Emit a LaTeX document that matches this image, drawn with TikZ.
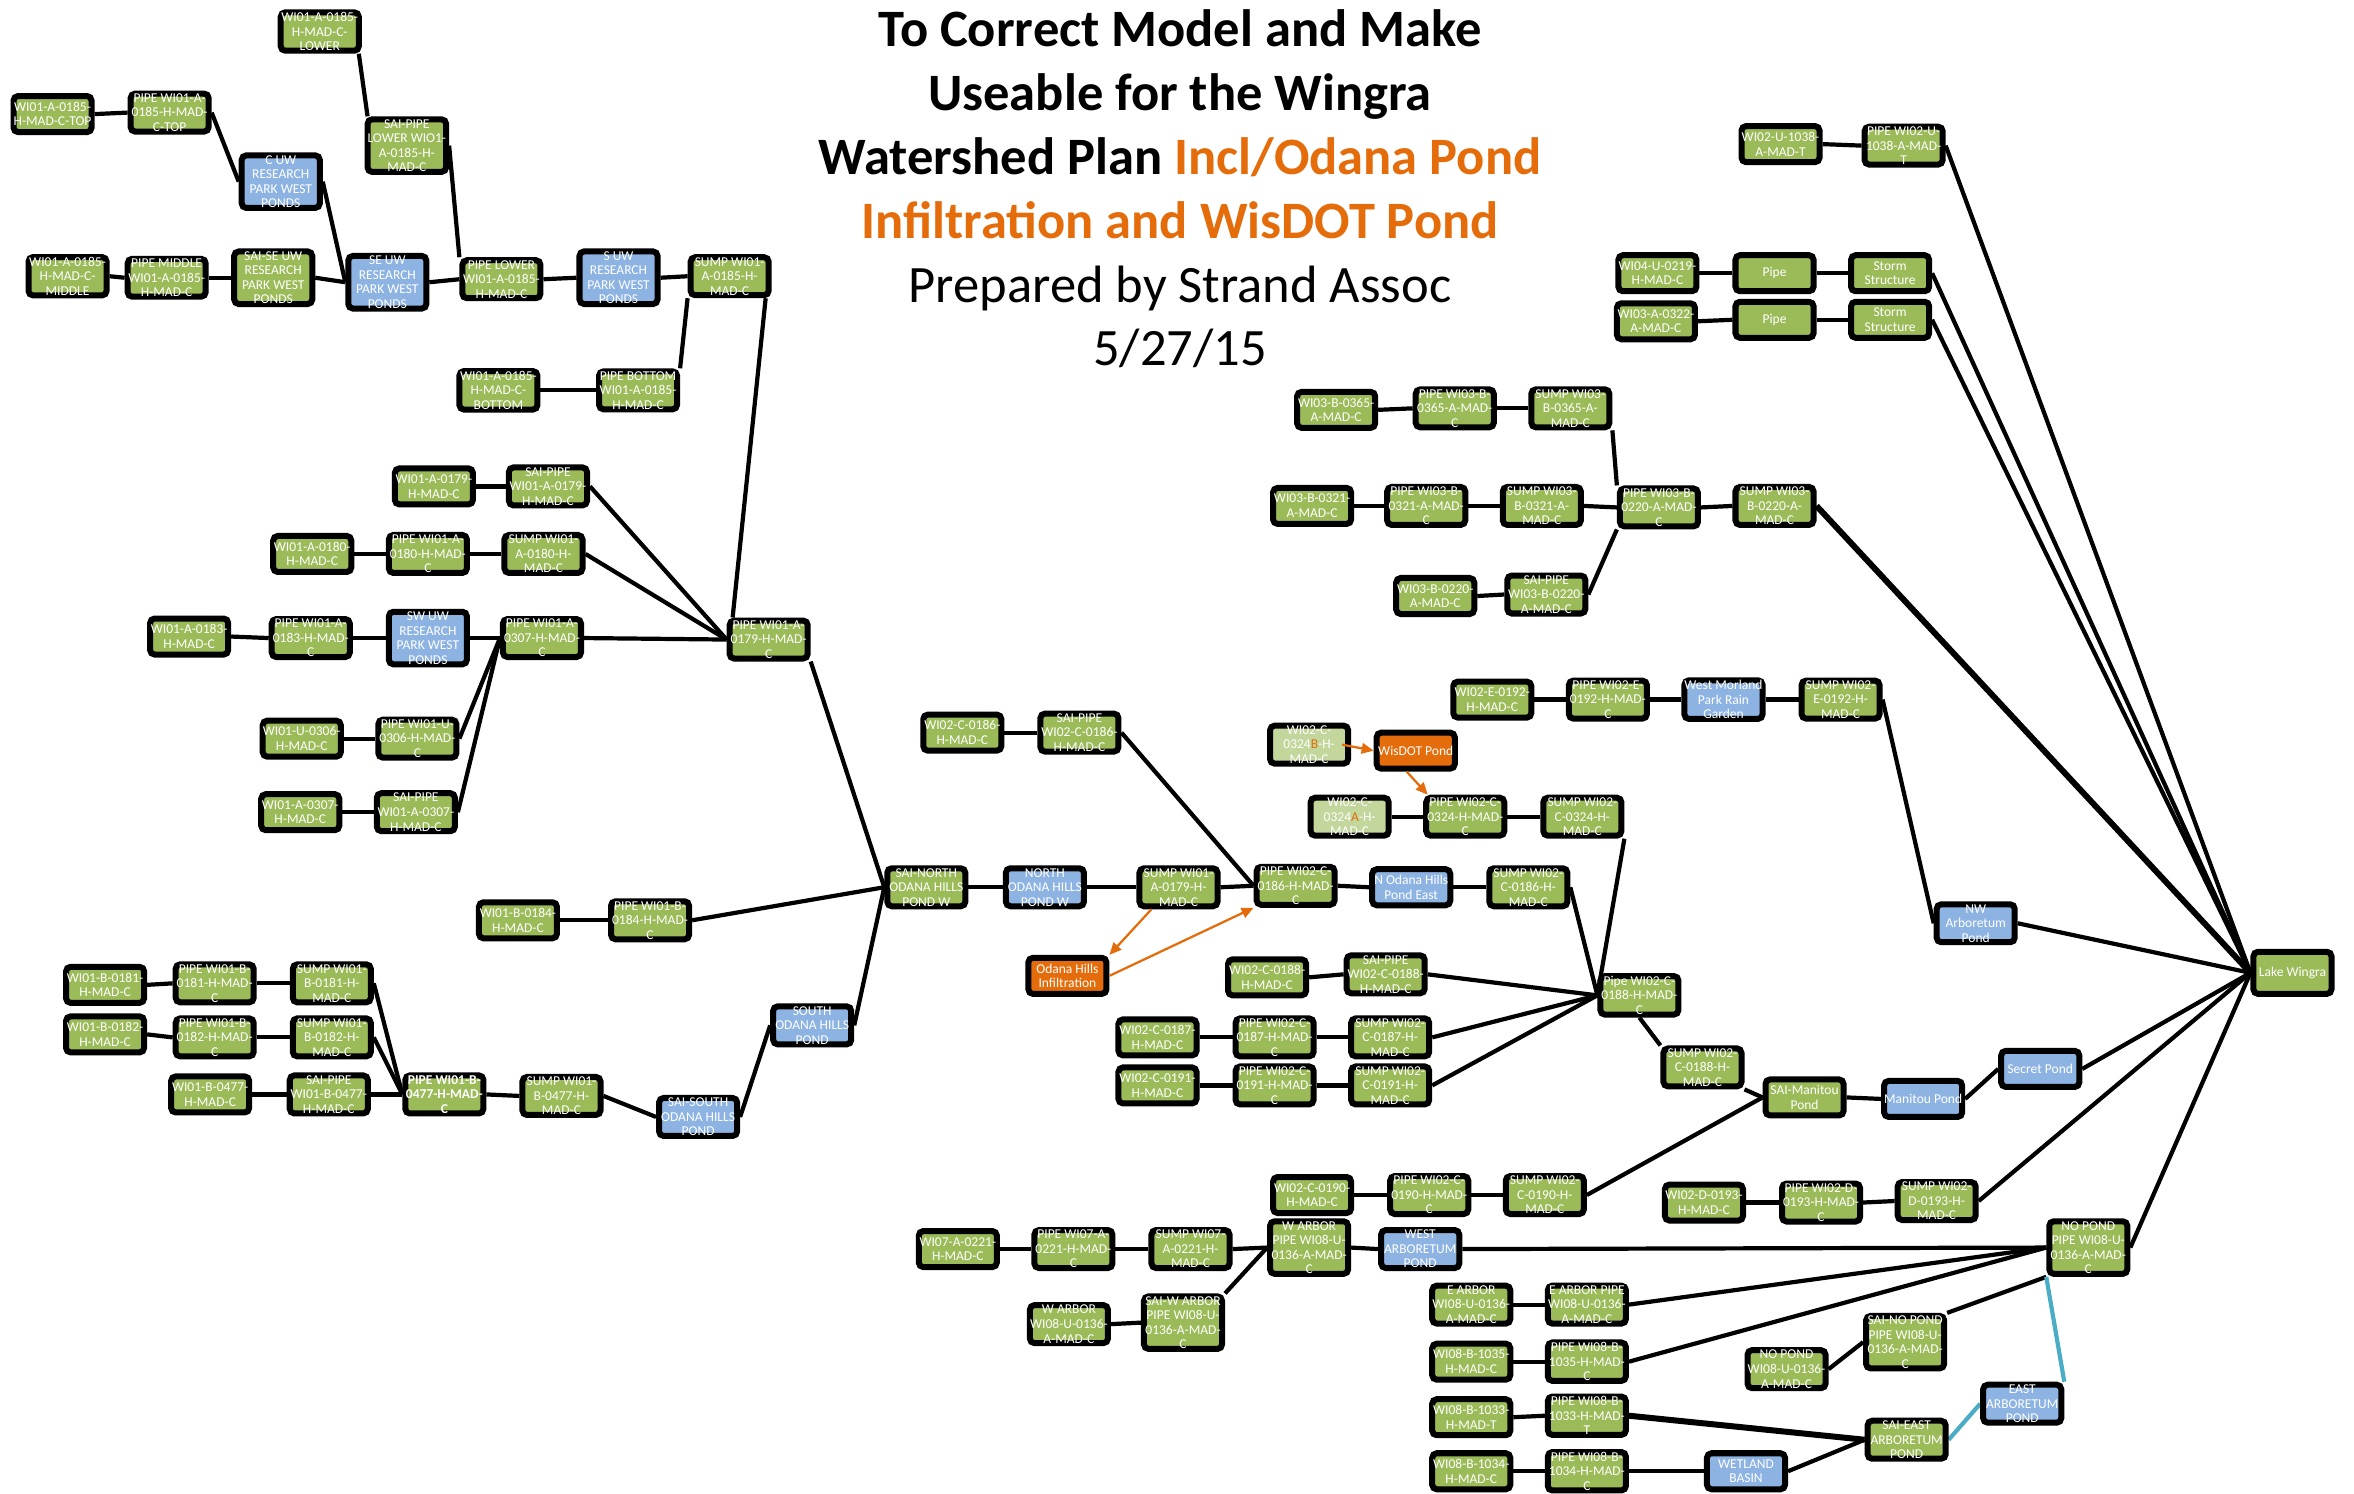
\documentclass[tikz,border=0pt]{standalone}
\usepackage{fontspec}
\setmainfont{Carlito}
\usetikzlibrary{arrows.meta,backgrounds}
\definecolor{gr}{HTML}{9BBB59}
\definecolor{bl}{HTML}{8DB3E2}
\definecolor{orC}{HTML}{E46C0A}
\definecolor{lg}{HTML}{C3D69B}
\definecolor{cy}{HTML}{4BACC6}
\begin{document}
\begin{tikzpicture}[x=1pt,y=-1pt,
 box/.style={draw=black,line width=4pt,rounded corners=3pt,minimum width=52pt,minimum height=24pt,inner sep=0pt,align=center,text=white,font=\fontsize{9}{9.7}\selectfont},
 gbox/.style={box,fill=gr},
 bbox/.style={box,fill=bl},
 obox/.style={box,fill=orC},
 lbox/.style={box,fill=lg},
 conn/.style={draw=black,line width=2.8pt},
 oarr/.style={draw=orC,line width=1.5pt,-{Triangle[length=8pt,width=7pt]}},
 cline/.style={draw=cy,line width=2.8pt}]
\useasboundingbox (0,0) rectangle (1568,995);

% title
\node[align=center,font=\fontsize{35}{42.5}\selectfont] (title) at (786,126)
 {\textbf{To Correct Model and Make}\\\textbf{Useable for the Wingra}\\\textbf{Watershed Plan \textcolor{orC}{Incl/Odana Pond}}\\\textbf{\textcolor{orC}{Infiltration and WisDOT Pond}}\\Prepared by Strand Assoc\\5/27/15};

% top-left cluster
\node[gbox] (a1) at (213,21) {WI01-A-0185-\\H-MAD-C-\\LOWER};
\node[gbox] (a2) at (35,76) {WI01-A-0185-\\H-MAD-C-TOP};
\node[gbox] (a3) at (113,75) {PIPE WI01-A-\\0185-H-MAD-\\C-TOP};
\node[bbox] (a4) at (187,121) {C UW\\RESEARCH\\PARK WEST\\PONDS};
\node[gbox] (a5) at (271,97) {SAI-PIPE\\LOWER WIO1-\\A-0185-H-\\MAD-C};
\node[gbox] (a6) at (45,184) {WI01-A-0185-\\H-MAD-C-\\MIDDLE};
\node[gbox] (a7) at (111,185) {PIPE MIDDLE\\WI01-A-0185-\\H-MAD-C};
\node[gbox] (a8) at (182,185) {SAI-SE UW\\RESEARCH\\PARK WEST\\PONDS};
\node[bbox] (a9) at (258,188) {SE UW\\RESEARCH\\PARK WEST\\PONDS};
\node[gbox] (a10) at (334,186) {PIPE LOWER\\WI01-A-0185-\\H-MAD-C};
\node[bbox] (a11) at (412,185) {S UW\\RESEARCH\\PARK WEST\\PONDS};
\node[gbox] (a12) at (486,184) {SUMP WI01-\\A-0185-H-\\MAD-C};
\node[gbox] (a13) at (332,260) {WI01-A-0185-\\H-MAD-C-\\BOTTOM};
\node[gbox] (a14) at (425,260) {PIPE BOTTOM\\WI01-A-0185-\\H-MAD-C};

% middle-left cluster
\node[gbox] (b1) at (289,324) {WI01-A-0179-\\H-MAD-C};
\node[gbox] (b2) at (365,324) {SAI-PIPE\\WI01-A-0179-\\H-MAD-C};
\node[gbox] (b3) at (208,369) {WI01-A-0180-\\H-MAD-C};
\node[gbox] (b4) at (285,369) {PIPE WI01-A-\\0180-H-MAD-\\C};
\node[gbox] (b5) at (362,369) {SUMP WI01-\\A-0180-H-\\MAD-C};
\node[gbox] (b6) at (126,424) {WI01-A-0183-\\H-MAD-C};
\node[gbox] (b7) at (207,425) {PIPE WI01-A-\\0183-H-MAD-\\C};
\node[bbox] (b8) at (285,425) {SW UW\\RESEARCH\\PARK WEST\\PONDS};
\node[gbox] (b9) at (361,425) {PIPE WI01-A-\\0307-H-MAD-\\C};
\node[gbox] (b10) at (512,426) {PIPE WI01-A-\\0179-H-MAD-\\C};
\node[gbox] (b11) at (201,492) {WI01-U-0306-\\H-MAD-C};
\node[gbox] (b12) at (278,492) {PIPE WI01-U-\\0306-H-MAD-\\C};
\node[gbox] (b13) at (200,541) {WI01-A-0307-\\H-MAD-C};
\node[gbox] (b14) at (277,541) {SAI-PIPE\\WI01-A-0307-\\H-MAD-C};

% odana cluster
\node[gbox] (c1) at (617,591) {SAI-NORTH\\ODANA HILLS\\POND W};
\node[gbox] (c2) at (345,613) {WI01-B-0184-\\H-MAD-C};
\node[gbox] (c3) at (433,613) {PIPE WI01-B-\\0184-H-MAD-\\C};
\node[bbox] (c4) at (696,591) {NORTH\\ODANA HILLS\\POND W};
\node[bbox] (c5) at (541,683) {SOUTH\\ODANA HILLS\\POND};
\node[bbox] (c6) at (465,744) {SAI-SOUTH\\ODANA HILLS\\POND};

% bottom-left cluster
\node[gbox] (d1) at (70,656) {WI01-B-0181-\\H-MAD-C};
\node[gbox] (d2) at (143,655) {PIPE WI01-B-\\0181-H-MAD-\\C};
\node[gbox] (d3) at (221,655) {SUMP WI01-\\B-0181-H-\\MAD-C};
\node[gbox] (d4) at (70,689) {WI01-B-0182-\\H-MAD-C};
\node[gbox] (d5) at (143,691) {PIPE WI01-B-\\0182-H-MAD-\\C};
\node[gbox] (d6) at (221,691) {SUMP WI01-\\B-0182-H-\\MAD-C};
\node[gbox] (d7) at (140,729) {WI01-B-0477-\\H-MAD-C};
\node[gbox] (d8) at (219,729) {SAI-PIPE\\WI01-B-0477-\\H-MAD-C};
\node[gbox,font=\fontsize{9}{9.7}\selectfont\bfseries] (d9) at (296,729) {PIPE WI01-B-\\0477-H-MAD-\\C};
\node[gbox] (d10) at (374,730) {SUMP WI01-\\B-0477-H-\\MAD-C};

% center cluster
\node[gbox] (e1) at (641,488) {WI02-C-0186-\\H-MAD-C};
\node[gbox] (e2) at (719,488) {SAI-PIPE\\WI02-C-0186-\\H-MAD-C};
\node[gbox] (e3) at (785,591) {SUMP WI01-\\A-0179-H-\\MAD-C};
\node[gbox] (e4) at (863,590) {PIPE WI02-C-\\0186-H-MAD-\\C};
\node[bbox] (e5) at (940,591) {N Odana Hills\\Pond East};
\node[gbox] (e6) at (1018,591) {SUMP WI02-\\C-0186-H-\\MAD-C};
\node[obox] (e7) at (711,650) {Odana Hills\\Infiltration};
\node[lbox] (e8) at (872,496) {WI02-C-\\0324\textcolor{orC}{B}-H-\\MAD-C};
\node[obox] (e9) at (943,500) {WisDOT Pond};
\node[lbox] (e10) at (899,544) {WI02-C-\\0324\textcolor{orC}{A}-H-\\MAD-C};
\node[gbox] (e11) at (976,544) {PIPE WI02-C-\\0324-H-MAD-\\C};
\node[gbox] (e12) at (1054,544) {SUMP WI02-\\C-0324-H-\\MAD-C};
\node[gbox] (e13) at (844,651) {WI02-C-0188-\\H-MAD-C};
\node[gbox] (e14) at (923,649) {SAI-PIPE\\WI02-C-0188-\\H-MAD-C};
\node[gbox] (e15) at (1092,663) {Pipe WI02-C-\\0188-H-MAD-\\C};
\node[gbox] (e16) at (771,691) {WI02-C-0187-\\H-MAD-C};
\node[gbox] (e17) at (849,691) {PIPE WI02-C-\\0187-H-MAD-\\C};
\node[gbox] (e18) at (926,691) {SUMP WI02-\\C-0187-H-\\MAD-C};
\node[gbox] (e19) at (771,723) {WI02-C-0191-\\H-MAD-C};
\node[gbox] (e20) at (849,723) {PIPE WI02-C-\\0191-H-MAD-\\C};
\node[gbox] (e21) at (926,723) {SUMP WI02-\\C-0191-H-\\MAD-C};
\node[gbox] (e22) at (1134,711) {SUMP WI02-\\C-0188-H-\\MAD-C};
\node[gbox] (e23) at (1202,731) {SAI-Manitou\\Pond};
\node[bbox] (e24) at (1281,732) {Manitou Pond};
\node[bbox] (e25) at (1359,712) {Secret Pond};
\node[bbox] (e26) at (1316,615) {NW\\Arboretum\\Pond};
\node[gbox,minimum height=28pt] (e27) at (1527,648) {Lake Wingra};

% WI02-E row
\node[gbox] (f1) at (994,466) {WI02-E-0192-\\H-MAD-C};
\node[gbox] (f2) at (1071,466) {PIPE WI02-E-\\0192-H-MAD-\\C};
\node[bbox] (f3) at (1148,466) {West Morland\\Park Rain\\Garden};
\node[gbox] (f4) at (1226,466) {SUMP WI02-\\E-0192-H-\\MAD-C};

% WI03 cluster
\node[gbox] (g1) at (890,273) {WI03-B-0365-\\A-MAD-C};
\node[gbox] (g2) at (969,272) {PIPE WI03-B-\\0365-A-MAD-\\C};
\node[gbox] (g3) at (1046,272) {SUMP WI03-\\B-0365-A-\\MAD-C};
\node[gbox] (g4) at (874,337) {WI03-B-0321-\\A-MAD-C};
\node[gbox] (g5) at (950,337) {PIPE WI03-B-\\0321-A-MAD-\\C};
\node[gbox] (g6) at (1027,337) {SUMP WI03-\\B-0321-A-\\MAD-C};
\node[gbox] (g7) at (1105,338) {PIPE WI03-B-\\0220-A-MAD-\\C};
\node[gbox] (g8) at (1182,337) {SUMP WI03-\\B-0220-A-\\MAD-C};
\node[gbox] (g9) at (956,397) {WI03-B-0220-\\A-MAD-C};
\node[gbox] (g10) at (1030,396) {SAI-PIPE\\WI03-B-0220-\\A-MAD-C};

% top right
\node[gbox] (h1) at (1186,96) {WI02-U-1038-\\A-MAD-T};
\node[gbox] (h2) at (1268,97) {PIPE WI02-U-\\1038-A-MAD-\\T};
\node[gbox] (h3) at (1104,182) {WI04-U-0219-\\H-MAD-C};
\node[gbox] (h4) at (1182,182) {Pipe};
\node[gbox] (h5) at (1259,182) {Storm\\Structure};
\node[gbox] (h6) at (1103,214) {WI03-A-0322-\\A-MAD-C};
\node[gbox] (h7) at (1182,213) {Pipe};
\node[gbox] (h8) at (1259,213) {Storm\\Structure};

% bottom rows
\node[gbox] (i1) at (874,796) {WI02-C-0190-\\H-MAD-C};
\node[gbox] (i2) at (952,796) {PIPE WI02-C-\\0190-H-MAD-\\C};
\node[gbox] (i3) at (1029,796) {SUMP WI02-\\C-0190-H-\\MAD-C};
\node[gbox] (i4) at (1135,801) {WI02-D-0193-\\H-MAD-C};
\node[gbox] (i5) at (1213,801) {PIPE WI02-D-\\0193-H-MAD-\\C};
\node[gbox] (i6) at (1290,800) {SUMP WI02-\\D-0193-H-\\MAD-C};
\node[gbox] (j1) at (638,832) {WI07-A-0221-\\H-MAD-C};
\node[gbox] (j2) at (715,832) {PIPE WI07-A-\\0221-H-MAD-\\C};
\node[gbox] (j3) at (793,832) {SUMP WI07-\\A-0221-H-\\MAD-C};
\node[gbox] (j4) at (872,831) {W ARBOR\\PIPE WI08-U-\\0136-A-MAD-\\C};
\node[bbox] (j5) at (946,832) {WEST\\ARBORETUM\\POND};
\node[gbox] (j6) at (712,882) {W ARBOR\\WI08-U-0136-\\A-MAD-C};
\node[gbox] (j7) at (788,881) {SAI-W ARBOR\\PIPE WI08-U-\\0136-A-MAD-\\C};
\node[gbox] (k1) at (1391,831) {NO POND\\PIPE WI08-U-\\0136-A-MAD-\\C};
\node[gbox] (k2) at (980,869) {E ARBOR\\WI08-U-0136-\\A-MAD-C};
\node[gbox] (k3) at (1057,869) {E ARBOR PIPE\\WI08-U-0136-\\A-MAD-C};
\node[gbox] (k4) at (980,907) {WI08-B-1035-\\H-MAD-C};
\node[gbox] (k5) at (1057,907) {PIPE WI08-B-\\1035-H-MAD-\\C};
\node[gbox] (k6) at (980,944) {WI08-B-1033-\\H-MAD-T};
\node[gbox] (k7) at (1057,943) {PIPE WI08-B-\\1033-H-MAD-\\T};
\node[gbox] (k8) at (980,980) {WI08-B-1034-\\H-MAD-C};
\node[gbox] (k9) at (1057,980) {PIPE WI08-B-\\1034-H-MAD-\\C};
\node[bbox] (k10) at (1163,980) {WETLAND\\BASIN};
\node[gbox] (k11) at (1190,912) {NO POND\\WI08-U-0136-\\A-MAD-C};
\node[gbox] (k12) at (1269,894) {SAI-NO POND\\PIPE WI08-U-\\0136-A-MAD-\\C};
\node[bbox] (k13) at (1347,935) {EAST\\ARBORETUM\\POND};
\node[gbox] (k14) at (1270,959) {SAI-EAST\\ARBORETUM\\POND};

\begin{pgfonlayer}{background}
% top-left
\draw[conn] (a2.east) -- (a3.west);
\draw[conn] (a3.east) -- (a4.west);
\draw[conn] (a4.east) -- (a9.west);
\draw[conn] ([xshift=-2pt]a1.south east) -- ([xshift=2pt]a5.north west);
\draw[conn] (a5.east) -- (a10.north west);
\draw[conn] (a6.east) -- (a7.west);
\draw[conn] (a7.east) -- (a8.west);
\draw[conn] (a8.east) -- (a9.west);
\draw[conn] (a9.east) -- (a10.west);
\draw[conn] (a10.east) -- (a11.west);
\draw[conn] (a11.east) -- (a12.west);
\draw[conn] (a13.east) -- (a14.west);
\draw[conn] (a14.north east) -- (a12.south west);
\draw[conn] ([xshift=-4pt]a12.south east) -- ([xshift=4pt]b10.north west);
% middle-left
\draw[conn] (b1.east) -- (b2.west);
\draw[conn] (b2.east) -- (b10.west);
\draw[conn] (b3.east) -- (b4.west);
\draw[conn] (b4.east) -- (b5.west);
\draw[conn] (b5.east) -- (b10.west);
\draw[conn] (b6.east) -- (b7.west);
\draw[conn] (b7.east) -- (b8.west);
\draw[conn] (b8.east) -- (b9.west);
\draw[conn] (b9.east) -- (b10.west);
\draw[conn] (b11.east) -- (b12.west);
\draw[conn] (b12.east) -- (b9.west);
\draw[conn] (b13.east) -- (b14.west);
\draw[conn] (b14.east) -- (b9.west);
\draw[conn] (b10.south east) -- (c1.west);
% odana
\draw[conn] (c2.east) -- (c3.west);
\draw[conn] (c3.east) -- (c1.west);
\draw[conn] (c1.east) -- (c4.west);
\draw[conn] (c5.east) -- (c1.west);
\draw[conn] (c6.east) -- (c5.west);
% bottom-left
\draw[conn] (d1.east) -- (d2.west);
\draw[conn] (d2.east) -- (d3.west);
\draw[conn] (d3.east) -- (d9.west);
\draw[conn] (d4.east) -- (d5.west);
\draw[conn] (d5.east) -- (d6.west);
\draw[conn] (d6.east) -- (d9.west);
\draw[conn] (d7.east) -- (d8.west);
\draw[conn] (d8.east) -- (d9.west);
\draw[conn] (d9.east) -- (d10.west);
\draw[conn] (d10.east) -- (c6.west);
% center
\draw[conn] (e1.east) -- (e2.west);
\draw[conn] (e2.east) -- (e4.west);
\draw[conn] (c4.east) -- (e3.west);
\draw[conn] (e3.east) -- (e4.west);
\draw[conn] (e4.east) -- (e5.west);
\draw[conn] (e5.east) -- (e6.west);
\draw[conn] (e6.east) -- (e15.west);
\draw[conn] (e12.south east) -- (e15.west);
\draw[conn] (e10.east) -- (e11.west);
\draw[conn] (e11.east) -- (e12.west);
\draw[conn] (e13.east) -- (e14.west);
\draw[conn] (e14.east) -- (e15.west);
\draw[conn] (e16.east) -- (e17.west);
\draw[conn] (e17.east) -- (e18.west);
\draw[conn] (e18.east) -- (e15.west);
\draw[conn] (e19.east) -- (e20.west);
\draw[conn] (e20.east) -- (e21.west);
\draw[conn] (e21.east) -- (e15.west);
\draw[conn] (e15.south) -- (e22.north west);
\draw[conn] (e22.south east) -- (e23.west);
\draw[conn] (e23.east) -- (e24.west);
\draw[conn] (e24.east) -- (e25.west);
\draw[conn] (e25.east) -- (e27.west);
\draw[conn] (e26.east) -- (e27.west);
% WI02-E
\draw[conn] (f1.east) -- (f2.west);
\draw[conn] (f2.east) -- (f3.west);
\draw[conn] (f3.east) -- (f4.west);
\draw[conn] (f4.east) -- (e26.west);
% WI03
\draw[conn] (g1.east) -- (g2.west);
\draw[conn] (g2.east) -- (g3.west);
\draw[conn] (g3.south east) -- (g7.north west);
\draw[conn] (g4.east) -- (g5.west);
\draw[conn] (g5.east) -- (g6.west);
\draw[conn] (g6.east) -- (g7.west);
\draw[conn] (g7.east) -- (g8.west);
\draw[conn] (g9.east) -- (g10.west);
\draw[conn] (g10.east) -- (g7.south west);
\draw[conn,line width=4pt] (g8.east) -- (e27.west);
% top right
\draw[conn] (h1.east) -- (h2.west);
\draw[conn] (h2.east) -- (e27.west);
\draw[conn] (h3.east) -- (h4.west);
\draw[conn] (h4.east) -- (h5.west);
\draw[conn] (h5.east) -- (e27.west);
\draw[conn] (h6.east) -- (h7.west);
\draw[conn] (h7.east) -- (h8.west);
\draw[conn] (h8.east) -- (e27.west);
% bottom
\draw[conn] (i1.east) -- (i2.west);
\draw[conn] (i2.east) -- (i3.west);
\draw[conn] (i3.east) -- (e23.west);
\draw[conn] (i4.east) -- (i5.west);
\draw[conn] (i5.east) -- (i6.west);
\draw[conn] (i6.east) -- (e27.west);
\draw[conn] (j1.east) -- (j2.west);
\draw[conn] (j2.east) -- (j3.west);
\draw[conn] (j3.east) -- (j4.west);
\draw[conn] (j4.east) -- (j5.west);
\draw[conn] (j5.east) -- (k1.west);
\draw[conn] (j6.east) -- (j7.west);
\draw[conn] (j7.north east) -- (j4.west);
\draw[conn] (k1.east) -- (e27.west);
\draw[conn] (k2.east) -- (k3.west);
\draw[conn] (k3.east) -- (k1.west);
\draw[conn] (k4.east) -- (k5.west);
\draw[conn] (k5.east) -- (k1.west);
\draw[conn] (k6.east) -- (k7.west);
\draw[conn,line width=4pt] (k7.east) -- (k14.west);
\draw[conn] (k8.east) -- (k9.west);
\draw[conn] (k9.east) -- (k10.west);
\draw[conn] (k10.east) -- (k14.west);
\draw[conn] (k11.east) -- (k12.west);
\draw[conn] (k12.north east) -- (k1.south west);
\draw[cline] (k14.east) -- (k13.west);
\draw[cline] (k13.north east) -- (k1.south west);
\end{pgfonlayer}

% orange arrows
\draw[oarr] ([xshift=-18pt]e3.south) -- (e7.north east);
\draw[oarr] (e7.east) -- (e4.south west);
\draw[oarr] ([xshift=-6pt]e8.east) -- (e9.west);
\draw[oarr] ([xshift=-6pt]e9.south) -- ([xshift=3pt]e11.north west);
\end{tikzpicture}
\end{document}
